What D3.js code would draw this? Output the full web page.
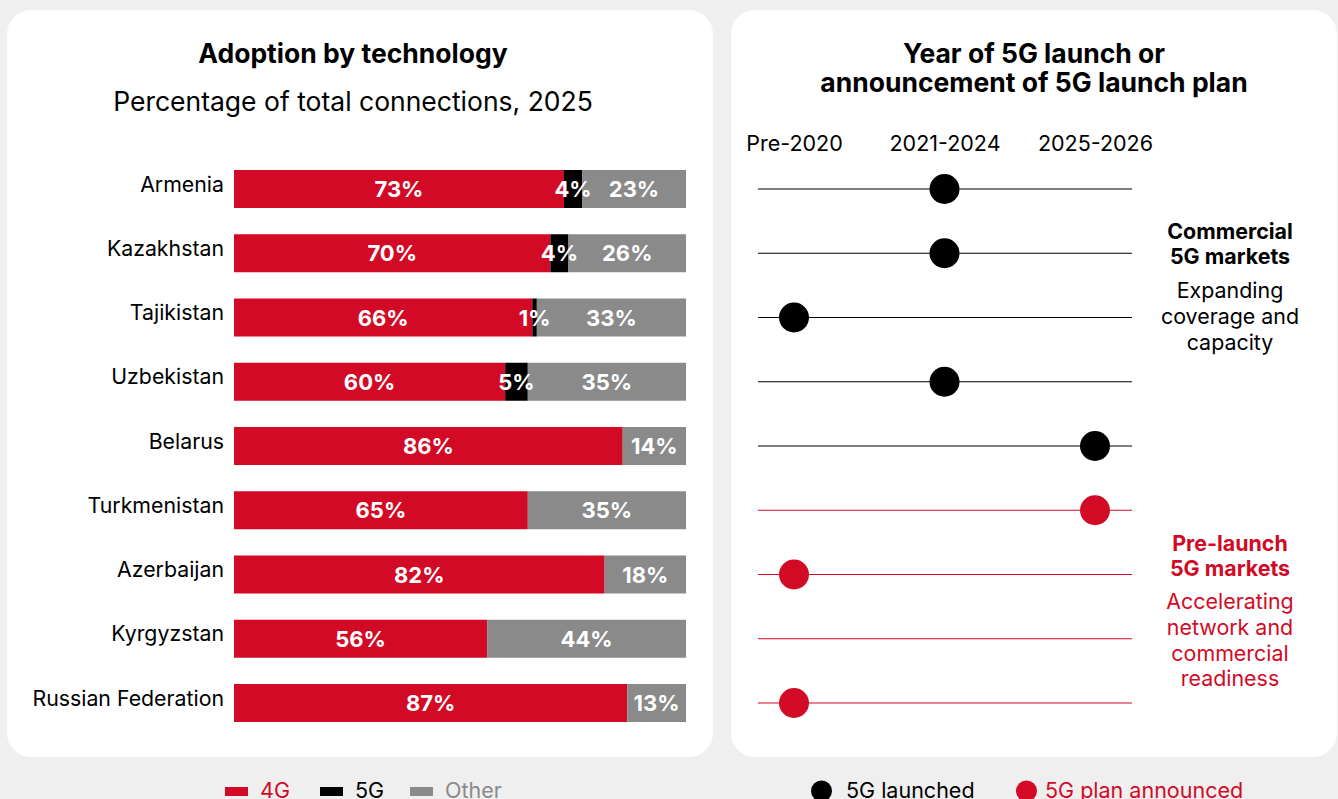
<!DOCTYPE html>
<html>
<head>
<meta charset="utf-8">
<script src="https://cdn.jsdelivr.net/npm/d3@7/dist/d3.min.js"></script>
<style>
  html, body { margin: 0; padding: 0; background: #efefef; }
  svg { display: block; font-family: Inter, "Noto Sans", sans-serif; }
</style>
</head>
<body>
<svg id="chart" width="1338" height="799"></svg>
<script>
// Countries in display order
const countries = ["Armenia", "Kazakhstan", "Tajikistan", "Uzbekistan", "Belarus",
  "Turkmenistan", "Azerbaijan", "Kyrgyzstan", "Russian Federation"];

// Share of total connections, 2025 (%)
const share4G    = [73, 70, 66, 60, 86, 65, 82, 56, 87];
const share5G    = [4, 4, 1, 5, 0, 0, 0, 0, 0];
const shareOther = [23, 26, 33, 35, 14, 35, 18, 44, 13];

// 5G launch timing
const periods = ["Pre-2020", "2021-2024", "2025-2026"];
const launchPeriod = ["2021-2024", "2021-2024", "Pre-2020", "2021-2024", "2025-2026",
  "2025-2026", "Pre-2020", null, "Pre-2020"];
const launchStatus = ["launched", "launched", "launched", "launched", "launched",
  "plan", "plan", "plan", "plan"];

const RED = "#d20a25", BLACK = "#000000", GREY = "#8a8a8a";

const svg = d3.select("#chart");

// Card backgrounds
svg.append("rect").attr("x", 7).attr("y", 10).attr("width", 706).attr("height", 747)
  .attr("rx", 24).attr("fill", "#fff");
svg.append("rect").attr("x", 731).attr("y", 10).attr("width", 606).attr("height", 747)
  .attr("rx", 24).attr("fill", "#fff");

// ---------- Left: stacked bars ----------
svg.append("text").attr("x", 353).attr("y", 63).attr("text-anchor", "middle")
  .attr("font-size", 26.5).attr("font-weight", 700).text("Adoption by technology");
svg.append("text").attr("x", 353).attr("y", 111).attr("text-anchor", "middle")
  .attr("font-size", 26.5).text("Percentage of total connections, 2025");

const y = d3.scalePoint().domain(countries).range([189, 703]);
const x = d3.scaleLinear().domain([0, 100]).range([234, 686]);
const barH = 38;

const rows = countries.map((c, i) => ({
  country: c,
  segs: [
    { key: "4G", v: share4G[i], x0: 0, color: RED },
    { key: "5G", v: share5G[i], x0: share4G[i], color: BLACK },
    { key: "Other", v: shareOther[i], x0: share4G[i] + share5G[i], color: GREY }
  ].filter(s => s.v > 0)
}));

const yAxis = d3.axisLeft(y).tickSize(0).tickPadding(10);
const gAxis = svg.append("g").attr("transform", `translate(${x(0)},0)`).call(yAxis);
gAxis.select(".domain").remove();
gAxis.selectAll("text").attr("font-size", 21.3).attr("font-family", "Inter, sans-serif")
  .attr("fill", "#000").attr("dy", "0.1em");

const rowG = svg.append("g").selectAll("g").data(rows).join("g")
  .attr("transform", d => `translate(0,${y(d.country)})`);

rowG.selectAll("rect").data(d => d.segs).join("rect")
  .attr("x", s => x(s.x0)).attr("y", -barH / 2)
  .attr("width", s => x(s.x0 + s.v) - x(s.x0)).attr("height", barH)
  .attr("fill", s => s.color);

rowG.selectAll("text.val").data(d => d.segs).join("text").attr("class", "val")
  .attr("x", s => (x(s.x0) + x(s.x0 + s.v)) / 2).attr("y", 8)
  .attr("text-anchor", "middle").attr("font-size", 22).attr("font-weight", 700)
  .attr("fill", "#fff").text(s => s.v + "%");

// ---------- Right: launch timing ----------
svg.append("text").attr("x", 1034).attr("y", 63).attr("text-anchor", "middle")
  .attr("font-size", 26.5).attr("font-weight", 700).text("Year of 5G launch or");
svg.append("text").attr("x", 1034).attr("y", 92).attr("text-anchor", "middle")
  .attr("font-size", 26.5).attr("font-weight", 700).text("announcement of 5G launch plan");

const px = d3.scalePoint().domain(periods).range([794, 1095]);
const topAxis = d3.axisTop(px).tickSize(0).tickPadding(0);
const gTop = svg.append("g").attr("transform", "translate(0,151)").call(topAxis);
gTop.select(".domain").remove();
gTop.selectAll("text").attr("font-size", 21.5).attr("font-family", "Inter, sans-serif").attr("fill", "#000");

const lineData = countries.map((c, i) => ({
  country: c, period: launchPeriod[i], status: launchStatus[i]
}));
const colorOf = s => s === "launched" ? BLACK : RED;

svg.append("g").selectAll("line").data(lineData).join("line")
  .attr("x1", 758).attr("x2", 1132)
  .attr("y1", d => y(d.country)).attr("y2", d => y(d.country))
  .attr("stroke", d => colorOf(d.status)).attr("stroke-width", 1.2);

svg.append("g").selectAll("circle").data(lineData.filter(d => d.period)).join("circle")
  .attr("cx", d => px(d.period)).attr("cy", d => y(d.country)).attr("r", 15)
  .attr("fill", d => colorOf(d.status));

// Group annotations
function block(lines, x0, yStart, color) {
  const t = svg.append("text").attr("text-anchor", "middle").attr("fill", color);
  lines.forEach(l => {
    t.append("tspan").attr("x", x0).attr("y", yStart + l.dy)
      .attr("font-size", 21.4).attr("font-weight", l.bold ? 700 : 400).text(l.text);
  });
}
block([
  { text: "Commercial", dy: 0, bold: true },
  { text: "5G markets", dy: 25, bold: true },
  { text: "Expanding", dy: 59 },
  { text: "coverage and", dy: 85 },
  { text: "capacity", dy: 111 }
], 1230, 239, "#000");
block([
  { text: "Pre-launch", dy: 0, bold: true },
  { text: "5G markets", dy: 25, bold: true },
  { text: "Accelerating", dy: 58 },
  { text: "network and", dy: 84 },
  { text: "commercial", dy: 110 },
  { text: "readiness", dy: 135 }
], 1230, 551, RED);

// ---------- Legends ----------
const barLegend = [
  { label: "4G", color: RED, x: 225, text: RED },
  { label: "5G", color: BLACK, x: 320, text: "#000" },
  { label: "Other", color: GREY, x: 410, text: GREY }
];
const lg = svg.append("g").selectAll("g").data(barLegend).join("g");
lg.append("rect").attr("x", d => d.x).attr("y", 787).attr("width", 23).attr("height", 9)
  .attr("fill", d => d.color);
lg.append("text").attr("x", d => d.x + 35).attr("y", 798).attr("font-size", 21.5)
  .attr("fill", d => d.text).text(d => d.label);

const dotLegend = [
  { label: "5G launched", color: BLACK, x: 821.5, tx: 846 },
  { label: "5G plan announced", color: RED, x: 1026.5, tx: 1045 }
];
const dg = svg.append("g").selectAll("g").data(dotLegend).join("g");
dg.append("circle").attr("cx", d => d.x).attr("cy", 791).attr("r", 10.5).attr("fill", d => d.color);
dg.append("text").attr("x", d => d.tx).attr("y", 798).attr("font-size", 21.5)
  .attr("fill", d => d.color).text(d => d.label);
</script>
</body>
</html>
